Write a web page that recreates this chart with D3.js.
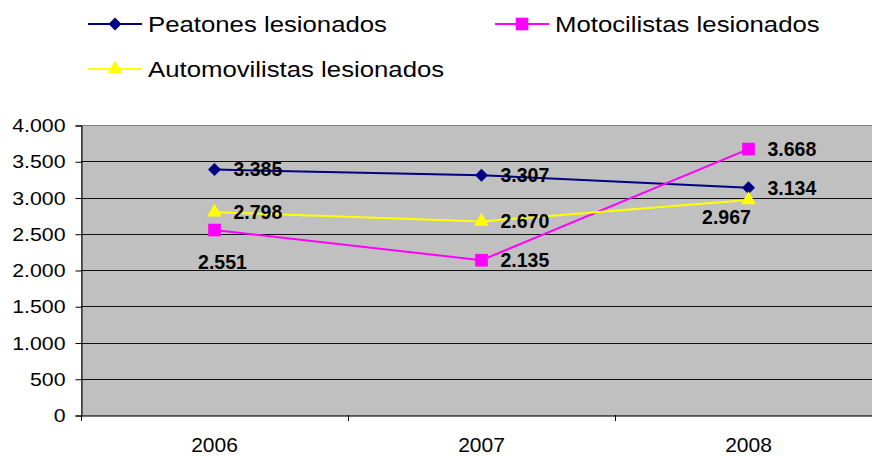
<!DOCTYPE html>
<html>
<head>
<meta charset="utf-8">
<script src="https://cdn.jsdelivr.net/npm/d3@7"></script>
<style>
  body { margin: 0; background: #fff; }
  svg { display: block; font-family: "Liberation Sans", Arial, sans-serif; }
</style>
</head>
<body>
<div id="chart"></div>
<script>
// chart values
const years = ["2006", "2007", "2008"];
const peatones = [3385, 3307, 3134];
const motociclistas = [2551, 2135, 3668];
const automovilistas = [2798, 2670, 2967];
const seriesNames = ["Peatones lesionados", "Motocilistas lesionados", "Automovilistas lesionados"];
const yTicks = [0, 500, 1000, 1500, 2000, 2500, 3000, 3500, 4000];

const WIDTH = 872;
const HEIGHT = 456;
const PLOT = { left: 81, top: 125, bottom: 415, right: 882 };

const diamond = { draw: function (ctx, size) {
  const r = Math.sqrt(size) / 2;
  ctx.moveTo(0, -r); ctx.lineTo(r, 0); ctx.lineTo(0, r); ctx.lineTo(-r, 0); ctx.closePath();
} };

const series = [
  { name: seriesNames[0], values: peatones, color: "#000080", symbol: diamond, size: 170 },
  { name: seriesNames[1], values: motociclistas, color: "#FF00FF", symbol: d3.symbolSquare, size: 160 },
  { name: seriesNames[2], values: automovilistas, color: "#FFFF00", symbol: d3.symbolTriangle, size: 95 }
];

// labels that sit under their point: [dx, dy]
const below = { "1-0": [8, 32], "2-2": [-22, 17] };

const fmt = d => d3.format(",")(d).replace(/,/g, ".");

// widen text a bit, the original font is wider than Arial
function stretch(sel, k) {
  sel.each(function () {
    const w = this.getComputedTextLength();
    d3.select(this)
      .attr("textLength", w * k)
      .attr("lengthAdjust", "spacingAndGlyphs");
  });
}

const svg = d3.select("#chart").append("svg")
  .attr("width", WIDTH)
  .attr("height", HEIGHT);

const x = d3.scaleBand()
  .domain(years)
  .range([PLOT.left, PLOT.right]);

const y = d3.scaleLinear()
  .domain([0, 4000])
  .range([PLOT.bottom, PLOT.top]);

// plot background
svg.append("rect")
  .attr("x", PLOT.left + 0.5)
  .attr("y", PLOT.top + 0.5)
  .attr("width", PLOT.right - PLOT.left)
  .attr("height", PLOT.bottom - PLOT.top)
  .attr("fill", "#C0C0C0")
  .attr("stroke", "#808080")
  .attr("stroke-width", 1);

// gridlines
svg.append("g")
  .selectAll("line")
  .data(yTicks.filter(d => d > 0 && d < 4000))
  .enter()
  .append("line")
  .attr("x1", PLOT.left)
  .attr("x2", PLOT.right)
  .attr("y1", d => Math.round(y(d)) + 0.5)
  .attr("y2", d => Math.round(y(d)) + 0.5)
  .attr("stroke", "#111")
  .attr("stroke-width", 1);

// y axis
const gY = svg.append("g")
  .attr("transform", "translate(" + (PLOT.left + 0.5) + ",0.5)")
  .call(d3.axisLeft(y)
    .tickValues(yTicks)
    .tickSize(6)
    .tickFormat(fmt));
gY.select(".domain").attr("stroke", "#000");
gY.selectAll(".tick line").attr("stroke", "#000");
gY.selectAll(".tick text")
  .attr("x", -16)
  .attr("font-size", 19)
  .attr("font-family", "Liberation Sans, Arial, sans-serif")
  .attr("fill", "#000")
  .call(stretch, 1.12);

// x axis
const gX = svg.append("g")
  .attr("transform", "translate(0," + (PLOT.bottom + 0.5) + ")")
  .call(d3.axisBottom(x).tickSize(0).tickPadding(22));
gX.select(".domain").attr("stroke", "#404040").attr("stroke-width", 1.5);
gX.selectAll(".tick text")
  .attr("font-size", 21)
  .attr("font-family", "Liberation Sans, Arial, sans-serif")
  .attr("fill", "#000");

// category separators on the x axis
svg.append("g")
  .selectAll("line")
  .data(years)
  .enter()
  .append("line")
  .attr("x1", d => Math.round(x(d)) + 0.5)
  .attr("x2", d => Math.round(x(d)) + 0.5)
  .attr("y1", PLOT.bottom)
  .attr("y2", PLOT.bottom + 6)
  .attr("stroke", "#000");

const cx = i => x(years[i]) + x.bandwidth() / 2;

const line = d3.line()
  .x((d, i) => cx(i))
  .y(d => y(d));

series.forEach(function (s) {
  svg.append("path")
    .datum(s.values)
    .attr("fill", "none")
    .attr("stroke", s.color)
    .attr("stroke-width", 2)
    .attr("d", line);
});

series.forEach(function (s) {
  svg.append("g")
    .selectAll("path")
    .data(s.values)
    .enter()
    .append("path")
    .attr("transform", (d, i) => "translate(" + cx(i) + "," + y(d) + ")")
    .attr("d", d3.symbol().type(s.symbol).size(s.size))
    .attr("fill", s.color);
});

// data labels
series.forEach(function (s, si) {
  svg.append("g")
    .selectAll("text")
    .data(s.values)
    .enter()
    .append("text")
    .attr("x", (d, i) => {
      const b = below[si + "-" + i];
      return b ? cx(i) + b[0] : cx(i) + 19;
    })
    .attr("y", (d, i) => {
      const b = below[si + "-" + i];
      return y(d) + (b ? b[1] : 0);
    })
    .attr("dy", "0.35em")
    .attr("text-anchor", (d, i) => below[si + "-" + i] ? "middle" : "start")
    .attr("font-size", 19.5)
    .attr("font-weight", "bold")
    .attr("fill", "#000")
    .text(fmt);
});

// legend
const legendPos = [[88, 24], [495, 24], [88, 69]];
series.forEach(function (s, i) {
  const g = svg.append("g")
    .attr("transform", "translate(" + legendPos[i][0] + "," + legendPos[i][1] + ")");
  g.append("line")
    .attr("x1", 0).attr("x2", 54)
    .attr("y1", 0).attr("y2", 0)
    .attr("stroke", s.color)
    .attr("stroke-width", 2);
  g.append("path")
    .attr("transform", "translate(27,0)")
    .attr("d", d3.symbol().type(s.symbol).size(s.size))
    .attr("fill", s.color);
  g.append("text")
    .attr("x", 60)
    .attr("y", 0)
    .attr("dy", "0.35em")
    .attr("font-size", 22)
    .attr("fill", "#000")
    .text(s.name)
    .call(stretch, 1.17);
});
</script>
</body>
</html>
